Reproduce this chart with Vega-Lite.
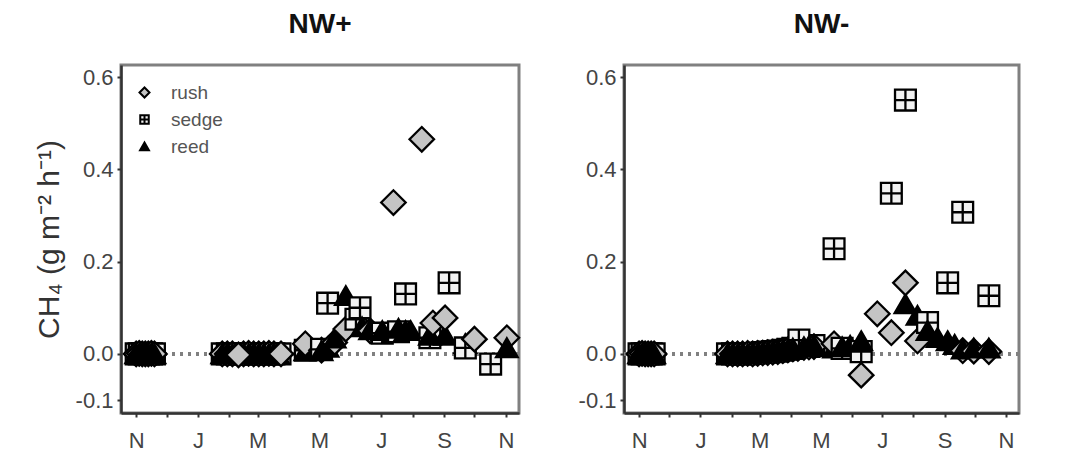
{
  "$schema": "https://vega.github.io/schema/vega-lite/v6.json",
  "background": "white",
  "padding": {"left": 32, "top": 9, "right": 5, "bottom": 5},
  "config": {
    "font": "Liberation Sans",
    "view": {"stroke": "#808080", "strokeWidth": 3},
    "concat": {"spacing": 50},
    "axis": {"labelFont": "Liberation Sans", "labelFontSize": 22, "labelColor": "#444444", "tickColor": "#333333", "tickSize": 4, "tickWidth": 2, "domainColor": "#333333", "domainWidth": 2.5, "grid": false, "titleFont": "Liberation Sans", "titleFontSize": 30, "titleColor": "#333333", "titleFontWeight": "normal"},
    "legend": {"padding": 2, "labelFont": "Liberation Sans", "labelFontSize": 19, "labelColor": "#555555", "symbolSize": 100, "rowPadding": 7, "labelOffset": 17, "symbolStrokeWidth": 2}
  },
  "data": {"values": [
    {"panel":"NW+","species":"sedge","date":"2012-11-01","ch4":0},{"panel":"NW+","species":"sedge","date":"2012-11-04","ch4":0},{"panel":"NW+","species":"sedge","date":"2012-11-07","ch4":0.001},{"panel":"NW+","species":"sedge","date":"2012-11-10","ch4":0},{"panel":"NW+","species":"sedge","date":"2012-11-13","ch4":0},{"panel":"NW+","species":"sedge","date":"2012-11-16","ch4":0},{"panel":"NW+","species":"sedge","date":"2012-11-19","ch4":0},
    {"panel":"NW+","species":"rush","date":"2012-11-01","ch4":0},{"panel":"NW+","species":"rush","date":"2012-11-04","ch4":0.001},{"panel":"NW+","species":"rush","date":"2012-11-07","ch4":0},{"panel":"NW+","species":"rush","date":"2012-11-10","ch4":0},{"panel":"NW+","species":"rush","date":"2012-11-13","ch4":0},{"panel":"NW+","species":"rush","date":"2012-11-16","ch4":0.001},{"panel":"NW+","species":"rush","date":"2012-11-19","ch4":0},
    {"panel":"NW+","species":"reed","date":"2012-11-01","ch4":0},{"panel":"NW+","species":"reed","date":"2012-11-04","ch4":0},{"panel":"NW+","species":"reed","date":"2012-11-07","ch4":0},{"panel":"NW+","species":"reed","date":"2012-11-10","ch4":0.001},{"panel":"NW+","species":"reed","date":"2012-11-13","ch4":0},{"panel":"NW+","species":"reed","date":"2012-11-16","ch4":0},{"panel":"NW+","species":"reed","date":"2012-11-19","ch4":0},

    {"panel":"NW+","species":"sedge","date":"2013-01-25","ch4":0},{"panel":"NW+","species":"sedge","date":"2013-01-30","ch4":0},{"panel":"NW+","species":"sedge","date":"2013-02-04","ch4":0.001},{"panel":"NW+","species":"sedge","date":"2013-02-10","ch4":0},{"panel":"NW+","species":"sedge","date":"2013-02-15","ch4":0},{"panel":"NW+","species":"sedge","date":"2013-02-20","ch4":0},{"panel":"NW+","species":"sedge","date":"2013-02-25","ch4":0},{"panel":"NW+","species":"sedge","date":"2013-03-02","ch4":0.001},{"panel":"NW+","species":"sedge","date":"2013-03-07","ch4":0},{"panel":"NW+","species":"sedge","date":"2013-03-12","ch4":0},{"panel":"NW+","species":"sedge","date":"2013-03-17","ch4":0},{"panel":"NW+","species":"sedge","date":"2013-03-23","ch4":0},
    {"panel":"NW+","species":"rush","date":"2013-01-25","ch4":0},{"panel":"NW+","species":"rush","date":"2013-01-30","ch4":0},{"panel":"NW+","species":"rush","date":"2013-02-04","ch4":0},{"panel":"NW+","species":"rush","date":"2013-02-15","ch4":0},{"panel":"NW+","species":"rush","date":"2013-02-20","ch4":0.001},{"panel":"NW+","species":"rush","date":"2013-02-25","ch4":0},{"panel":"NW+","species":"rush","date":"2013-03-02","ch4":0},{"panel":"NW+","species":"rush","date":"2013-03-07","ch4":0},{"panel":"NW+","species":"rush","date":"2013-03-12","ch4":0.001},{"panel":"NW+","species":"rush","date":"2013-03-17","ch4":0},
    {"panel":"NW+","species":"reed","date":"2013-01-25","ch4":0},{"panel":"NW+","species":"reed","date":"2013-01-30","ch4":0.001},{"panel":"NW+","species":"reed","date":"2013-02-04","ch4":0},{"panel":"NW+","species":"reed","date":"2013-02-08","ch4":0},{"panel":"NW+","species":"reed","date":"2013-02-15","ch4":0},{"panel":"NW+","species":"reed","date":"2013-02-20","ch4":0},{"panel":"NW+","species":"reed","date":"2013-02-25","ch4":0.001},{"panel":"NW+","species":"reed","date":"2013-03-02","ch4":0},{"panel":"NW+","species":"reed","date":"2013-03-07","ch4":0},{"panel":"NW+","species":"reed","date":"2013-03-12","ch4":0},{"panel":"NW+","species":"reed","date":"2013-03-17","ch4":0.001},{"panel":"NW+","species":"reed","date":"2013-03-21","ch4":0},
    {"panel":"NW+","species":"rush","date":"2013-02-10","ch4":-0.002},{"panel":"NW+","species":"rush","date":"2013-03-24","ch4":0},

    {"panel":"NW+","species":"sedge","date":"2013-04-17","ch4":0.008},{"panel":"NW+","species":"reed","date":"2013-04-17","ch4":0.006},{"panel":"NW+","species":"rush","date":"2013-04-17","ch4":0.022},
    {"panel":"NW+","species":"rush","date":"2013-05-03","ch4":0.008},{"panel":"NW+","species":"sedge","date":"2013-05-03","ch4":0.01},{"panel":"NW+","species":"reed","date":"2013-05-03","ch4":0.006},
    {"panel":"NW+","species":"sedge","date":"2013-05-09","ch4":0.11},{"panel":"NW+","species":"reed","date":"2013-05-09","ch4":0.014},
    {"panel":"NW+","species":"rush","date":"2013-05-16","ch4":0.025},{"panel":"NW+","species":"reed","date":"2013-05-16","ch4":0.034},
    {"panel":"NW+","species":"reed","date":"2013-05-27","ch4":0.126},{"panel":"NW+","species":"rush","date":"2013-05-27","ch4":0.054},
    {"panel":"NW+","species":"sedge","date":"2013-06-06","ch4":0.075},
    {"panel":"NW+","species":"sedge","date":"2013-06-10","ch4":0.1},
    {"panel":"NW+","species":"reed","date":"2013-06-12","ch4":0.058},
    {"panel":"NW+","species":"rush","date":"2013-06-20","ch4":0.05},{"panel":"NW+","species":"reed","date":"2013-06-20","ch4":0.052},
    {"panel":"NW+","species":"sedge","date":"2013-07-02","ch4":0.045},{"panel":"NW+","species":"reed","date":"2013-07-02","ch4":0.05},
    {"panel":"NW+","species":"rush","date":"2013-07-13","ch4":0.328},{"panel":"NW+","species":"reed","date":"2013-07-13","ch4":0.046},
    {"panel":"NW+","species":"sedge","date":"2013-07-18","ch4":0.048},{"panel":"NW+","species":"reed","date":"2013-07-18","ch4":0.055},
    {"panel":"NW+","species":"sedge","date":"2013-07-25","ch4":0.13},{"panel":"NW+","species":"reed","date":"2013-07-25","ch4":0.05},
    {"panel":"NW+","species":"reed","date":"2013-07-30","ch4":0.05},
    {"panel":"NW+","species":"rush","date":"2013-08-10","ch4":0.465},
    {"panel":"NW+","species":"sedge","date":"2013-08-18","ch4":0.035},{"panel":"NW+","species":"reed","date":"2013-08-18","ch4":0.04},
    {"panel":"NW+","species":"rush","date":"2013-08-21","ch4":0.067},
    {"panel":"NW+","species":"reed","date":"2013-09-02","ch4":0.04},{"panel":"NW+","species":"rush","date":"2013-09-02","ch4":0.078},
    {"panel":"NW+","species":"sedge","date":"2013-09-06","ch4":0.154},
    {"panel":"NW+","species":"reed","date":"2013-09-22","ch4":0.022},{"panel":"NW+","species":"sedge","date":"2013-09-22","ch4":0.013},
    {"panel":"NW+","species":"rush","date":"2013-10-01","ch4":0.032},
    {"panel":"NW+","species":"sedge","date":"2013-10-17","ch4":-0.022},
    {"panel":"NW+","species":"rush","date":"2013-11-02","ch4":0.035},{"panel":"NW+","species":"reed","date":"2013-11-02","ch4":0.013},

    {"panel":"NW-","species":"sedge","date":"2012-11-01","ch4":0},{"panel":"NW-","species":"sedge","date":"2012-11-04","ch4":0},{"panel":"NW-","species":"sedge","date":"2012-11-07","ch4":0.001},{"panel":"NW-","species":"sedge","date":"2012-11-10","ch4":0},{"panel":"NW-","species":"sedge","date":"2012-11-13","ch4":0},{"panel":"NW-","species":"sedge","date":"2012-11-16","ch4":0},
    {"panel":"NW-","species":"rush","date":"2012-11-01","ch4":0},{"panel":"NW-","species":"rush","date":"2012-11-04","ch4":0.001},{"panel":"NW-","species":"rush","date":"2012-11-07","ch4":0},{"panel":"NW-","species":"rush","date":"2012-11-10","ch4":0},{"panel":"NW-","species":"rush","date":"2012-11-13","ch4":0},{"panel":"NW-","species":"rush","date":"2012-11-16","ch4":0},
    {"panel":"NW-","species":"reed","date":"2012-11-01","ch4":0},{"panel":"NW-","species":"reed","date":"2012-11-04","ch4":0},{"panel":"NW-","species":"reed","date":"2012-11-07","ch4":0.001},{"panel":"NW-","species":"reed","date":"2012-11-10","ch4":0},{"panel":"NW-","species":"reed","date":"2012-11-13","ch4":0.001},{"panel":"NW-","species":"reed","date":"2012-11-16","ch4":0},

    {"panel":"NW-","species":"sedge","date":"2013-01-28","ch4":0},{"panel":"NW-","species":"sedge","date":"2013-02-02","ch4":0},{"panel":"NW-","species":"sedge","date":"2013-02-07","ch4":0.001},{"panel":"NW-","species":"sedge","date":"2013-02-12","ch4":0},{"panel":"NW-","species":"sedge","date":"2013-02-17","ch4":0},{"panel":"NW-","species":"sedge","date":"2013-02-22","ch4":0.001},{"panel":"NW-","species":"sedge","date":"2013-02-27","ch4":0.002},{"panel":"NW-","species":"sedge","date":"2013-03-04","ch4":0.003},{"panel":"NW-","species":"sedge","date":"2013-03-09","ch4":0.004},{"panel":"NW-","species":"sedge","date":"2013-03-14","ch4":0.005},{"panel":"NW-","species":"sedge","date":"2013-03-19","ch4":0.006},{"panel":"NW-","species":"sedge","date":"2013-03-24","ch4":0.008},{"panel":"NW-","species":"sedge","date":"2013-03-29","ch4":0.01},{"panel":"NW-","species":"sedge","date":"2013-04-03","ch4":0.012},{"panel":"NW-","species":"sedge","date":"2013-04-19","ch4":0.016},{"panel":"NW-","species":"sedge","date":"2013-04-24","ch4":0.018},
    {"panel":"NW-","species":"rush","date":"2013-01-28","ch4":0},{"panel":"NW-","species":"rush","date":"2013-02-02","ch4":0},{"panel":"NW-","species":"rush","date":"2013-02-07","ch4":0},{"panel":"NW-","species":"rush","date":"2013-02-12","ch4":0},{"panel":"NW-","species":"rush","date":"2013-02-17","ch4":0.001},{"panel":"NW-","species":"rush","date":"2013-02-22","ch4":0},{"panel":"NW-","species":"rush","date":"2013-02-27","ch4":0.001},{"panel":"NW-","species":"rush","date":"2013-03-04","ch4":0.002},{"panel":"NW-","species":"rush","date":"2013-03-09","ch4":0.003},{"panel":"NW-","species":"rush","date":"2013-03-14","ch4":0.004},{"panel":"NW-","species":"rush","date":"2013-03-19","ch4":0.005},{"panel":"NW-","species":"rush","date":"2013-03-24","ch4":0.007},{"panel":"NW-","species":"rush","date":"2013-03-29","ch4":0.009},{"panel":"NW-","species":"rush","date":"2013-04-03","ch4":0.011},{"panel":"NW-","species":"rush","date":"2013-04-08","ch4":0.012},{"panel":"NW-","species":"rush","date":"2013-04-14","ch4":0.014},{"panel":"NW-","species":"rush","date":"2013-04-19","ch4":0.015},{"panel":"NW-","species":"rush","date":"2013-04-24","ch4":0.016},
    {"panel":"NW-","species":"sedge","date":"2013-04-09","ch4":0.03},
    {"panel":"NW-","species":"reed","date":"2013-01-28","ch4":0},{"panel":"NW-","species":"reed","date":"2013-02-02","ch4":0},{"panel":"NW-","species":"reed","date":"2013-02-07","ch4":0},{"panel":"NW-","species":"reed","date":"2013-02-12","ch4":0.001},{"panel":"NW-","species":"reed","date":"2013-02-17","ch4":0},{"panel":"NW-","species":"reed","date":"2013-02-22","ch4":0.001},{"panel":"NW-","species":"reed","date":"2013-02-27","ch4":0.002},{"panel":"NW-","species":"reed","date":"2013-03-04","ch4":0.003},{"panel":"NW-","species":"reed","date":"2013-03-09","ch4":0.004},{"panel":"NW-","species":"reed","date":"2013-03-14","ch4":0.005},{"panel":"NW-","species":"reed","date":"2013-03-19","ch4":0.007},{"panel":"NW-","species":"reed","date":"2013-03-24","ch4":0.008},{"panel":"NW-","species":"reed","date":"2013-03-29","ch4":0.01},{"panel":"NW-","species":"reed","date":"2013-04-03","ch4":0.012},{"panel":"NW-","species":"reed","date":"2013-04-14","ch4":0.015},{"panel":"NW-","species":"reed","date":"2013-04-19","ch4":0.017},{"panel":"NW-","species":"reed","date":"2013-04-24","ch4":0.018},

    {"panel":"NW-","species":"reed","date":"2013-05-14","ch4":0.012},{"panel":"NW-","species":"sedge","date":"2013-05-14","ch4":0.228},{"panel":"NW-","species":"rush","date":"2013-05-14","ch4":0.022},
    {"panel":"NW-","species":"sedge","date":"2013-05-22","ch4":0.012},{"panel":"NW-","species":"reed","date":"2013-05-22","ch4":0.015},
    {"panel":"NW-","species":"reed","date":"2013-05-30","ch4":0.018},
    {"panel":"NW-","species":"rush","date":"2013-06-10","ch4":-0.046},{"panel":"NW-","species":"sedge","date":"2013-06-10","ch4":0.005},{"panel":"NW-","species":"reed","date":"2013-06-10","ch4":0.028},
    {"panel":"NW-","species":"rush","date":"2013-06-26","ch4":0.087},
    {"panel":"NW-","species":"rush","date":"2013-07-10","ch4":0.046},{"panel":"NW-","species":"sedge","date":"2013-07-10","ch4":0.348},
    {"panel":"NW-","species":"sedge","date":"2013-07-24","ch4":0.55},{"panel":"NW-","species":"reed","date":"2013-07-24","ch4":0.108},{"panel":"NW-","species":"rush","date":"2013-07-24","ch4":0.154},
    {"panel":"NW-","species":"rush","date":"2013-08-05","ch4":0.028},{"panel":"NW-","species":"reed","date":"2013-08-05","ch4":0.083},
    {"panel":"NW-","species":"sedge","date":"2013-08-15","ch4":0.068},{"panel":"NW-","species":"reed","date":"2013-08-15","ch4":0.05},
    {"panel":"NW-","species":"reed","date":"2013-08-25","ch4":0.035},
    {"panel":"NW-","species":"sedge","date":"2013-09-04","ch4":0.154},{"panel":"NW-","species":"reed","date":"2013-09-04","ch4":0.028},
    {"panel":"NW-","species":"reed","date":"2013-09-11","ch4":0.02},
    {"panel":"NW-","species":"rush","date":"2013-09-19","ch4":0.007},{"panel":"NW-","species":"sedge","date":"2013-09-19","ch4":0.307},{"panel":"NW-","species":"reed","date":"2013-09-19","ch4":0.01},
    {"panel":"NW-","species":"rush","date":"2013-09-30","ch4":0.006},{"panel":"NW-","species":"reed","date":"2013-09-30","ch4":0.012},
    {"panel":"NW-","species":"rush","date":"2013-10-15","ch4":0.005},{"panel":"NW-","species":"sedge","date":"2013-10-15","ch4":0.126},{"panel":"NW-","species":"reed","date":"2013-10-15","ch4":0.012}
  ]},
  "hconcat": [
    {
      "title": {"text": "NW+", "font": "Liberation Sans", "fontSize": 28, "fontWeight": "bold", "color": "#111111", "anchor": "middle", "frame": "group", "offset": 26},
      "width": 398, "height": 348,
      "transform": [{"filter": "datum.panel == 'NW+'"}],
      "layer": [
        {
          "mark": {"type": "rule", "strokeDash": [3, 5], "color": "#808080", "strokeWidth": 2.5},
          "encoding": {"y": {"datum": 0, "type": "quantitative", "scale": {"domain": [-0.128, 0.626], "nice": false, "zero": false}}}
        },
        {
          "mark": {"type": "point", "filled": true, "stroke": "#000000", "strokeWidth": 2.3, "opacity": 1, "size": 600},
          "encoding": {
            "x": {"field": "date", "type": "temporal", "scale": {"type": "utc", "domain": [{"year": 2012, "month": 10, "date": 17, "utc": true}, {"year": 2013, "month": 11, "date": 14, "utc": true}]},
              "axis": {"title": null, "labelOverlap": false, "labelFlush": false, "labelPadding": 13,
                "values": [{"year":2012,"month":11,"date":1,"utc":true},{"year":2012,"month":12,"date":1,"utc":true},{"year":2013,"month":1,"date":1,"utc":true},{"year":2013,"month":2,"date":1,"utc":true},{"year":2013,"month":3,"date":1,"utc":true},{"year":2013,"month":4,"date":1,"utc":true},{"year":2013,"month":5,"date":1,"utc":true},{"year":2013,"month":6,"date":1,"utc":true},{"year":2013,"month":7,"date":1,"utc":true},{"year":2013,"month":8,"date":1,"utc":true},{"year":2013,"month":9,"date":1,"utc":true},{"year":2013,"month":10,"date":1,"utc":true},{"year":2013,"month":11,"date":1,"utc":true}],
                "labelExpr": "utcmonth(datum.value) % 2 == 0 ? slice(utcFormat(datum.value, '%b'), 0, 1) : ''"}},
            "y": {"field": "ch4", "type": "quantitative", "scale": {"domain": [-0.128, 0.626], "nice": false, "zero": false},
              "axis": {"title": "CH₄ (g m⁻² h⁻¹)", "titlePadding": 11, "values": [-0.1, 0, 0.2, 0.4, 0.6], "labelPadding": 4,
                "labelExpr": "datum.value < 0 ? '-0.1' : format(datum.value, '.1f')"}},
            "shape": {"field": "species", "type": "nominal", "scale": {"domain": ["rush", "sedge", "reed"], "range": ["diamond", "M-0.85,-0.85H0.85V0.85H-0.85Z M0,-0.85V0.85 M-0.85,0H0.85", "M0,-0.78L0.88,0.74L-0.88,0.74Z"]}, "legend": {"title": null, "orient": "none", "legendX": 12, "legendY": 16}},
            "fill": {"field": "species", "type": "nominal", "scale": {"domain": ["rush", "sedge", "reed"], "range": ["#c4c4c4", "#f2f2f2", "#000000"]}, "legend": {"title": null, "orient": "none", "legendX": 12, "legendY": 16}}
          }
        }
      ]
    },
    {
      "title": {"text": "NW-", "font": "Liberation Sans", "fontSize": 28, "fontWeight": "bold", "color": "#111111", "anchor": "middle", "frame": "group", "offset": 26},
      "width": 395, "height": 348,
      "transform": [{"filter": "datum.panel == 'NW-'"}],
      "layer": [
        {
          "mark": {"type": "rule", "strokeDash": [3, 5], "color": "#808080", "strokeWidth": 2.5},
          "encoding": {"y": {"datum": 0, "type": "quantitative", "scale": {"domain": [-0.128, 0.626], "nice": false, "zero": false}}}
        },
        {
          "mark": {"type": "point", "filled": true, "stroke": "#000000", "strokeWidth": 2.3, "opacity": 1, "size": 600},
          "encoding": {
            "x": {"field": "date", "type": "temporal", "scale": {"type": "utc", "domain": [{"year": 2012, "month": 10, "date": 17, "utc": true}, {"year": 2013, "month": 11, "date": 14, "utc": true}]},
              "axis": {"title": null, "labelOverlap": false, "labelFlush": false, "labelPadding": 13,
                "values": [{"year":2012,"month":11,"date":1,"utc":true},{"year":2012,"month":12,"date":1,"utc":true},{"year":2013,"month":1,"date":1,"utc":true},{"year":2013,"month":2,"date":1,"utc":true},{"year":2013,"month":3,"date":1,"utc":true},{"year":2013,"month":4,"date":1,"utc":true},{"year":2013,"month":5,"date":1,"utc":true},{"year":2013,"month":6,"date":1,"utc":true},{"year":2013,"month":7,"date":1,"utc":true},{"year":2013,"month":8,"date":1,"utc":true},{"year":2013,"month":9,"date":1,"utc":true},{"year":2013,"month":10,"date":1,"utc":true},{"year":2013,"month":11,"date":1,"utc":true}],
                "labelExpr": "utcmonth(datum.value) % 2 == 0 ? slice(utcFormat(datum.value, '%b'), 0, 1) : ''"}},
            "y": {"field": "ch4", "type": "quantitative", "scale": {"domain": [-0.128, 0.626], "nice": false, "zero": false},
              "axis": {"title": null, "values": [-0.1, 0, 0.2, 0.4, 0.6], "labelPadding": 4,
                "labelExpr": "datum.value < 0 ? '-0.1' : format(datum.value, '.1f')"}},
            "shape": {"field": "species", "type": "nominal", "scale": {"domain": ["rush", "sedge", "reed"], "range": ["diamond", "M-0.85,-0.85H0.85V0.85H-0.85Z M0,-0.85V0.85 M-0.85,0H0.85", "M0,-0.78L0.88,0.74L-0.88,0.74Z"]}, "legend": null},
            "fill": {"field": "species", "type": "nominal", "scale": {"domain": ["rush", "sedge", "reed"], "range": ["#c4c4c4", "#f2f2f2", "#000000"]}, "legend": null}
          }
        }
      ]
    }
  ]
}
